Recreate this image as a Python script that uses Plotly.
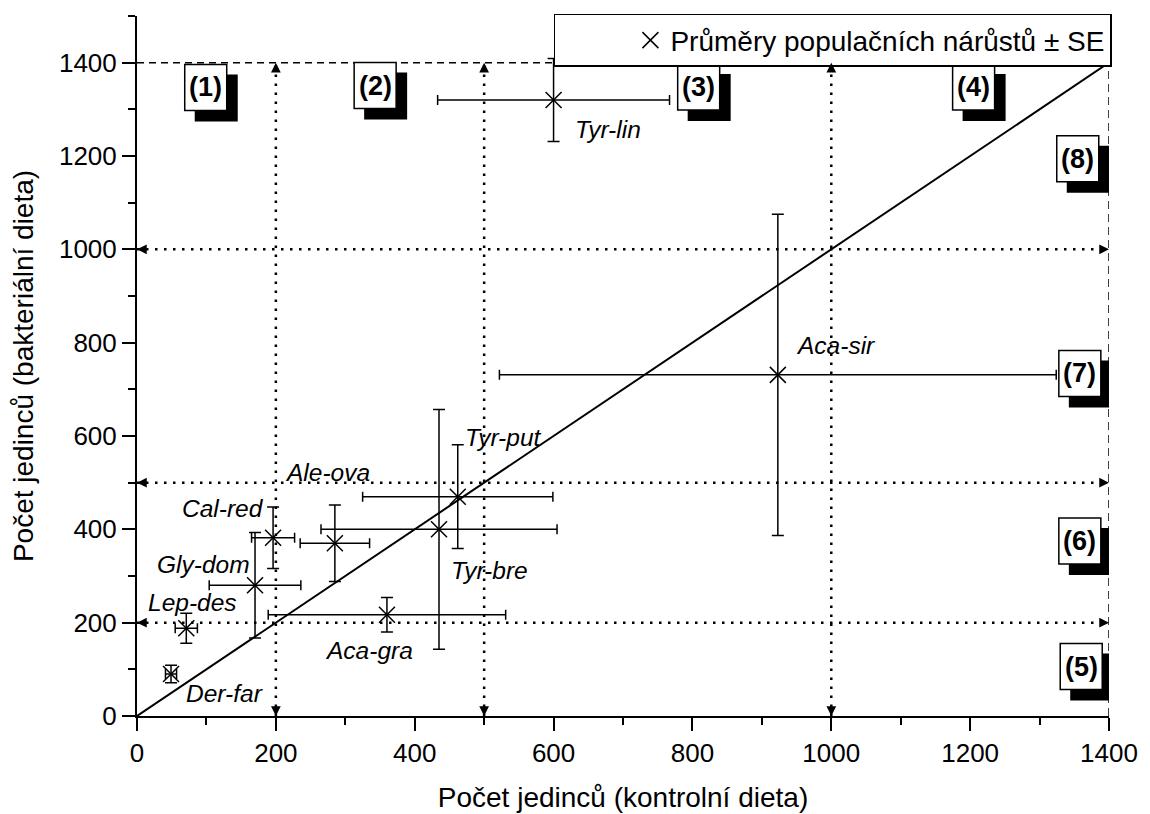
import plotly.graph_objects as go

# ---- data ----
species = ['Tyr-lin', 'Aca-sir', 'Tyr-put', 'Tyr-bre', 'Ale-ova',
           'Cal-red', 'Gly-dom', 'Aca-gra', 'Lep-des', 'Der-far']
x_mean = [600, 923, 462, 435, 285, 196, 170, 360, 71, 49]
x_se = [167, 401, 137, 170, 50, 31, 66, 171, 16, 8]
y_mean = [1320, 731, 470, 400, 370, 382, 280, 217, 188, 90]
y_se = [89, 344, 111, 257, 82, 66, 113, 37, 32, 19]

# label anchor positions (left edge, vertical middle) in data units
label_x = [628, 946, 470, 449, 210, 62, 26, 268, 13, 68]
label_y = [1256, 793, 596, 312, 521, 444, 325, 141, 244, 49]

region_names = ['(1)', '(2)', '(3)', '(4)', '(5)', '(6)', '(7)', '(8)']
region_x = [99, 343, 809, 1205, 1360, 1358, 1358, 1355]
region_y = [1347, 1351, 1348, 1348, 106, 375, 734, 1194]

thresholds = [200, 500, 1000]
limit = 1400
legend_text = 'Průměry populačních nárůstů ± SE'
x_title = 'Počet jedinců (kontrolní dieta)'
y_title = 'Počet jedinců (bakteriální dieta)'

FONT = 'Liberation Sans, Arial, sans-serif'

fig = go.Figure()

# 1:1 line
fig.add_trace(go.Scatter(x=[0, limit], y=[0, limit], mode='lines',
                         line=dict(color='black', width=2),
                         showlegend=False, hoverinfo='skip'))

# means +- SE
fig.add_trace(go.Scatter(
    x=x_mean, y=y_mean, mode='markers', name=legend_text,
    marker=dict(symbol='x-thin-open', size=16, color='black',
                line=dict(color='black', width=1.5)),
    error_x=dict(type='data', array=x_se, color='black', thickness=1.5, width=5),
    error_y=dict(type='data', array=y_se, color='black', thickness=1.5, width=6),
    text=species, hoverinfo='text+x+y'))

shapes = []
annotations = []

# dashed limits
shapes.append(dict(type='line', xref='x', yref='y', x0=0, x1=limit, y0=limit, y1=limit,
                   line=dict(color='black', width=1.5, dash='7px,5px'), layer='below'))
shapes.append(dict(type='line', xref='x', yref='y', x0=limit, x1=limit, y0=0, y1=limit,
                   line=dict(color='black', width=1.5, dash='8px,5px'), layer='below'))

# dotted threshold lines with arrows
for t in thresholds:
    shapes.append(dict(type='line', xref='x', yref='y', x0=t, x1=t, y0=0, y1=limit,
                       line=dict(color='black', width=2.5, dash='2.5px,6.5px'), layer='below'))
    shapes.append(dict(type='line', xref='x', yref='y', x0=0, x1=limit, y0=t, y1=t,
                       line=dict(color='black', width=2.5, dash='2.5px,6.5px'), layer='below'))
    for (xx, yy, ax, ay) in [(t, limit, 0, 10), (t, 0, 0, -10),
                             (0, t, 10, 0), (limit, t, -10, 0)]:
        annotations.append(dict(x=xx, y=yy, xref='x', yref='y', ax=ax, ay=ay,
                                text='', showarrow=True, arrowhead=2, arrowsize=1.3,
                                arrowwidth=1.5, arrowcolor='black'))

# region boxes with drop shadow
for name, cx, cy in zip(region_names, region_x, region_y):
    shapes.append(dict(type='rect', xref='x', yref='y', xsizemode='pixel', ysizemode='pixel',
                       xanchor=cx, yanchor=cy, x0=-11, x1=32, y0=-34, y1=13,
                       fillcolor='black', line=dict(width=0), layer='above'))
    shapes.append(dict(type='rect', xref='x', yref='y', xsizemode='pixel', ysizemode='pixel',
                       xanchor=cx, yanchor=cy, x0=-21, x1=21, y0=-23, y1=23,
                       fillcolor='white', line=dict(color='black', width=1.5), layer='above'))
    annotations.append(dict(x=cx, y=cy, xref='x', yref='y', text='<b>' + name + '</b>',
                            showarrow=False, font=dict(family=FONT, size=27, color='black'),
                            xanchor='center', yanchor='middle'))

# species labels
for s, lx, ly in zip(species, label_x, label_y):
    annotations.append(dict(x=lx, y=ly, xref='x', yref='y', text='<i>' + s + '</i>',
                            showarrow=False, font=dict(family=FONT, size=24.5, color='black'),
                            xanchor='left', yanchor='middle'))

axis_common = dict(showline=True, linecolor='black', linewidth=2, ticks='outside',
                   ticklen=13, tickwidth=2, tickcolor='black', showgrid=False,
                   zeroline=False, dtick=200, tick0=0,
                   tickfont=dict(family=FONT, size=26, color='black'),
                   minor=dict(dtick=100, ticks='outside', ticklen=7, tickwidth=2,
                              tickcolor='black', showgrid=False))

fig.update_layout(
    width=1150, height=814,
    margin=dict(l=129, r=49, t=6, b=106),
    plot_bgcolor='white', paper_bgcolor='white',
    font=dict(family=FONT, color='black'),
    xaxis=dict(range=[0, 1400], title=dict(text=x_title, font=dict(family=FONT, size=28),
                                            standoff=20), **axis_common),
    yaxis=dict(range=[0, 1500], title=dict(text=y_title, font=dict(family=FONT, size=28),
                                            standoff=18), **axis_common),
    legend=dict(x=1.003, xanchor='right', y=1.003, yanchor='top',
                bordercolor='black', borderwidth=1.5, bgcolor='white',
                font=dict(family=FONT, size=28, color='black'), indentation=75),
    shapes=shapes, annotations=annotations, showlegend=True,
)

fig.write_html('out.html')
